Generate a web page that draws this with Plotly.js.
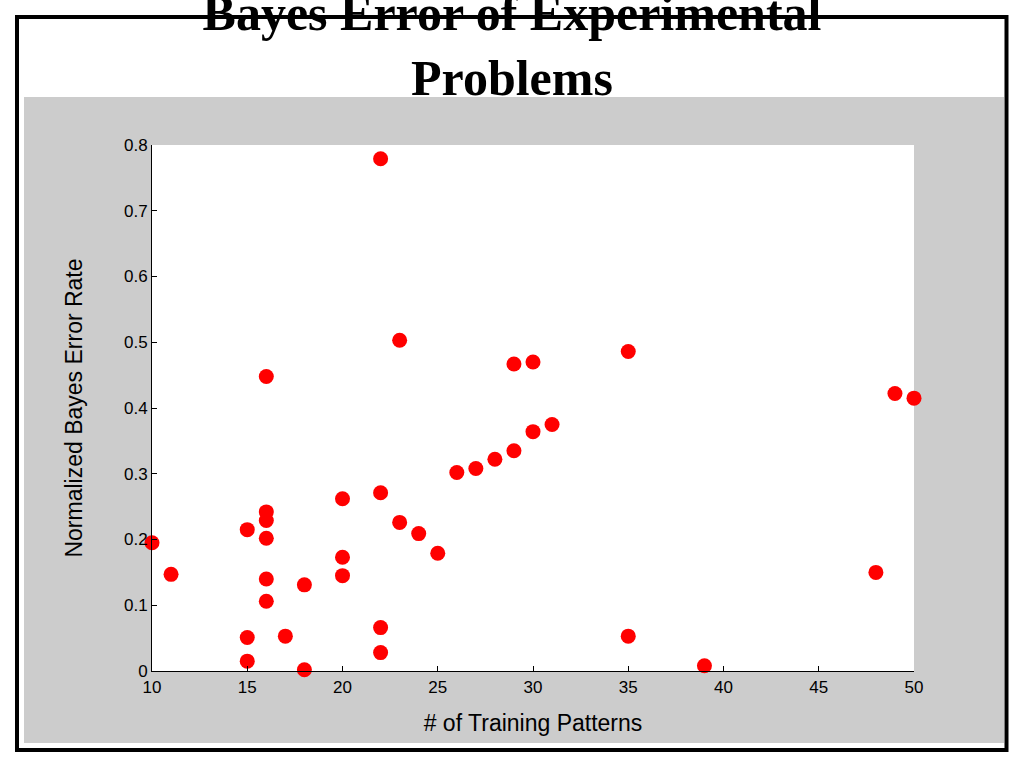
<!DOCTYPE html>
<html>
<head>
<meta charset="utf-8">
<script src="https://cdn.plot.ly/plotly-3.0.1.min.js"></script>
<style>
html,body{margin:0;padding:0;background:#fff;}
#chart{width:1024px;height:768px;}
</style>
</head>
<body>
<div id="chart"></div>
<script>
// Data: number of training patterns vs normalized Bayes error rate
var trainingPatterns = [10, 11, 15, 15, 15, 16, 16, 16, 16, 16, 16, 17, 18, 18, 20, 20, 20,
  22, 22, 22, 22, 23, 23, 24, 25, 26, 27, 28, 29, 29, 30, 30, 31, 35, 35, 39, 48, 49, 50];
var bayesError = [0.195, 0.147, 0.215, 0.051, 0.015, 0.448, 0.242, 0.229, 0.202, 0.140, 0.106, 0.053, 0.131, 0.002, 0.262, 0.173, 0.145,
  0.779, 0.271, 0.066, 0.028, 0.503, 0.226, 0.209, 0.179, 0.302, 0.308, 0.322, 0.335, 0.467, 0.470, 0.364, 0.375, 0.486, 0.053, 0.008, 0.150, 0.422, 0.415];
var xTicks = [10, 15, 20, 25, 30, 35, 40, 45, 50];
var yTicks = [0, 0.1, 0.2, 0.3, 0.4, 0.5, 0.6, 0.7, 0.8];
var yTickLabels = ['0', '0.1', '0.2', '0.3', '0.4', '0.5', '0.6', '0.7', '0.8'];

var trace = {
  type: 'scatter',
  mode: 'markers',
  x: trainingPatterns,
  y: bayesError,
  cliponaxis: false,
  marker: {color: '#ff0000', size: 15, line: {width: 0}},
  hoverinfo: 'x+y'
};

var tickFont = {family: 'Liberation Sans, Arial, sans-serif', size: 17, color: '#000'};
var titleFont = {family: 'Liberation Sans, Arial, sans-serif', size: 23, color: '#000'};

var layout = {
  width: 1024,
  height: 768,
  margin: {l: 152, r: 110, t: 145, b: 97, pad: 0},
  paper_bgcolor: '#ffffff',
  plot_bgcolor: '#ffffff',
  showlegend: false,
  title: {
    text: 'Bayes Error of Experimental<br>Problems',
    font: {family: 'Liberation Serif, Times New Roman, serif', size: 50, color: '#000', weight: 'bold'},
    x: 0.5,
    xanchor: 'center',
    xref: 'container',
    yref: 'container',
    y: 0.9614,
    yanchor: 'middle'
  },
  xaxis: {
    range: [10, 50],
    tickvals: xTicks,
    ticktext: xTicks.map(String),
    showgrid: false,
    zeroline: false,
    showline: true,
    linecolor: '#000',
    linewidth: 1,
    ticks: 'inside',
    ticklen: 5,
    tickcolor: '#000',
    tickfont: tickFont,
    ticklabelstandoff: 1,
    title: {text: '# of Training Patterns', font: titleFont, standoff: 18}
  },
  yaxis: {
    range: [0, 0.8],
    tickvals: yTicks,
    ticktext: yTickLabels,
    showgrid: false,
    zeroline: false,
    showline: true,
    linecolor: '#000',
    linewidth: 1,
    ticks: 'inside',
    ticklen: 5,
    tickcolor: '#000',
    tickfont: tickFont,
    title: {text: 'Normalized Bayes Error Rate', font: titleFont, standoff: 34}
  },
  shapes: [
    {type: 'rect', xref: 'paper', yref: 'paper', layer: 'below',
     x0: -0.16798, x1: 1.11811, y0: -0.13688, y1: 1.09125,
     fillcolor: '#cccccc', line: {width: 0}},
    {type: 'rect', xref: 'paper', yref: 'paper', layer: 'below',
     x0: 0, x1: 1, y0: 0, y1: 1,
     fillcolor: '#ffffff', line: {width: 0}},
    {type: 'rect', xref: 'paper', yref: 'paper', layer: 'above',
     x0: -0.17717, x1: 1.12139, y0: -0.15019, y1: 1.24335,
     fillcolor: 'rgba(0,0,0,0)', line: {color: '#000', width: 4}}
  ]
};

Plotly.newPlot('chart', [trace], layout, {displayModeBar: false, responsive: false});
</script>
</body>
</html>
